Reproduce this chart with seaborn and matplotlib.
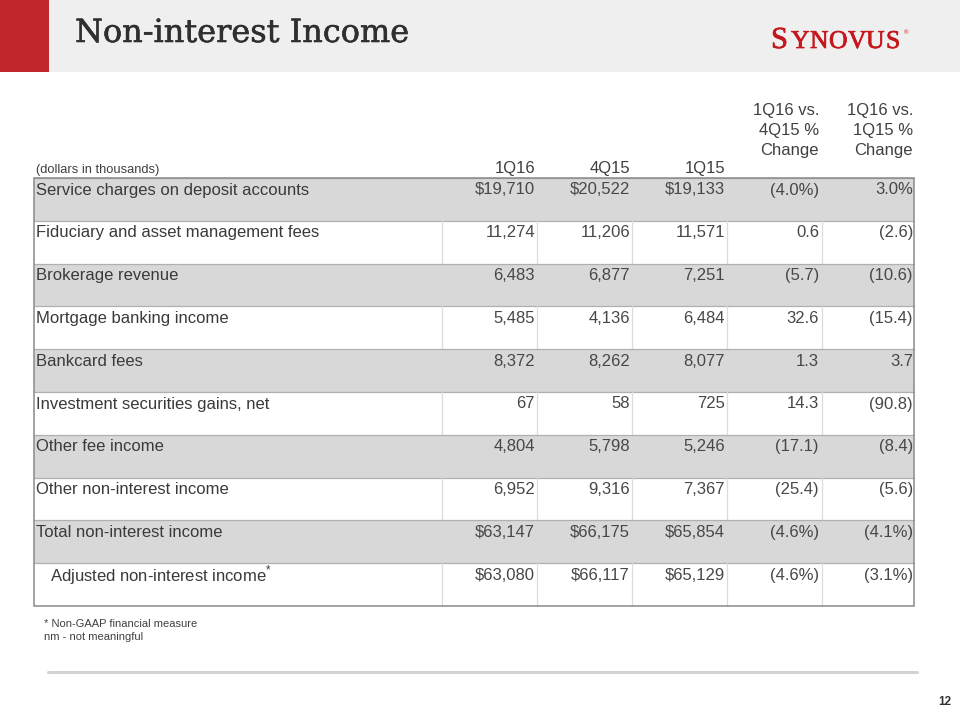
import numpy as np
import pandas as pd
import matplotlib
matplotlib.use("Agg")
import matplotlib.pyplot as plt
import matplotlib.patheffects as pe
import seaborn as sns
from matplotlib.colors import ListedColormap
from matplotlib.patches import Rectangle

sns.set_theme(style="white")
plt.rcParams["font.family"] = ["Liberation Sans", "DejaVu Sans"]
plt.rcParams["mathtext.fontset"] = "custom"
plt.rcParams["mathtext.rm"] = "Liberation Sans"

# table content
row_labels = [
    "Service charges on deposit accounts",
    "Fiduciary and asset management fees",
    "Brokerage revenue",
    "Mortgage banking income",
    "Bankcard fees",
    "Investment securities gains, net",
    "Other fee income",
    "Other non-interest income",
    "Total non-interest income",
    "Adjusted non-interest income$^{*}$",
]
col_headers = ["1Q16", "4Q15", "1Q15", "1Q16 vs.\n4Q15 %\nChange", "1Q16 vs.\n1Q15 %\nChange"]
q1_16 = ["$19,710", "11,274", "6,483", "5,485", "8,372", "67", "4,804", "6,952", "$63,147", "$63,080"]
q4_15 = ["$20,522", "11,206", "6,877", "4,136", "8,262", "58", "5,798", "9,316", "$66,175", "$66,117"]
q1_15 = ["$19,133", "11,571", "7,251", "6,484", "8,077", "725", "5,246", "7,367", "$65,854", "$65,129"]
chg_4q15 = ["(4.0%)", "0.6", "(5.7)", "32.6", "1.3", "14.3", "(17.1)", "(25.4)", "(4.6%)", "(4.6%)"]
chg_1q15 = ["3.0%", "(2.6)", "(10.6)", "(15.4)", "3.7", "(90.8)", "(8.4)", "(5.6)", "(4.1%)", "(3.1%)"]
shaded = [1, 0, 1, 0, 1, 0, 1, 0, 1, 0]
indented = [0, 0, 0, 0, 0, 0, 0, 0, 0, 1]

W, H = 960, 720
fig = plt.figure(figsize=(9.6, 7.2), dpi=100)
fig.patch.set_facecolor("white")

# table geometry (pixels)
t_left, t_right, t_top, t_bot = 34, 914, 178, 606
n = len(row_labels)
row_h = (t_bot - t_top) / n
seps = [442, 537, 632, 727, 822]
col_right = [535, 630, 725, 819, 913]

# row shading via heatmap
ax_tab = fig.add_axes([t_left / W, 1 - t_bot / H, (t_right - t_left) / W, (t_bot - t_top) / H])
shade_df = pd.DataFrame({"shade": shaded}, index=row_labels)
sns.heatmap(shade_df, ax=ax_tab, cmap=ListedColormap(["#ffffff", "#d8d8d8"]),
            vmin=0, vmax=1, cbar=False, xticklabels=False, yticklabels=False)
ax_tab.set_axis_off()

# overlay in pixel coordinates
ax = fig.add_axes([0, 0, 1, 1], zorder=3)
ax.set_xlim(0, W)
ax.set_ylim(H, 0)
ax.set_axis_off()
ax.patch.set_alpha(0)

# header band
ax.add_patch(Rectangle((0, 0), W, 72, color="#efefef", lw=0, zorder=0))
ax.add_patch(Rectangle((0, 0), 49, 72, color="#c1272d", lw=0, zorder=1))
ax.text(75, 42, "Non-interest Income", family="DejaVu Serif", fontsize=23,
        color="#2f2f2f", va="baseline", ha="left",
        path_effects=[pe.withStroke(linewidth=0.4, foreground="#2f2f2f")])

# logo
logo_red = "#c4161c"
thick = [pe.withStroke(linewidth=0.5, foreground=logo_red)]
ax.text(771, 48, "S", family="Liberation Serif", fontsize=22, color=logo_red,
        va="baseline", ha="left", path_effects=thick)
for ch, lx in zip("YNOVUS", [791, 810, 829, 848, 866, 886]):
    ax.text(lx, 48, ch, family="Liberation Serif", fontsize=18.5, color=logo_red,
            va="baseline", ha="left", path_effects=thick)
ax.text(904, 34, "®", fontsize=4.5, color=logo_red, va="baseline", ha="left")

# column headers
ax.text(36, 170, "(dollars in thousands)", fontsize=9.3, color="#404040", va="center", ha="left")
for j, hdr in enumerate(col_headers):
    lines = hdr.split("\n")
    for k, line in enumerate(reversed(lines)):
        y = 169 if len(lines) == 1 else 151 - k * 20.5
        ax.text(col_right[j], y, line, fontsize=12, color="#404040", va="center", ha="right")

# grid lines
for i in range(n):
    top = t_top + i * row_h
    if not shaded[i]:
        for sx in seps:
            ax.plot([sx, sx], [top, top + row_h], color="#dcdcdc", lw=0.9, zorder=2)
    else:
        ax.plot([t_left, t_right], [top, top], color="#b0b0b0", lw=0.9, zorder=2)
        ax.plot([t_left, t_right], [top + row_h, top + row_h], color="#b0b0b0", lw=0.9, zorder=2)
ax.add_patch(Rectangle((t_left, t_top), t_right - t_left, t_bot - t_top,
                       fill=False, ec="#8a8a8a", lw=1.1, zorder=4))

# cell text
cols = [q1_16, q4_15, q1_15, chg_4q15, chg_1q15]
for i in range(n):
    yc = t_top + i * row_h + 12
    ax.text(36 + 14 * indented[i], yc, row_labels[i], fontsize=12, color="#3a3a3a",
            va="center", ha="left", zorder=5)
    for j, col in enumerate(cols):
        ax.text(col_right[j], yc, col[i], fontsize=12, color="#474747",
                va="center", ha="right", zorder=5)

# footnotes
ax.text(44, 624, "* Non-GAAP financial measure", fontsize=8, color="#404040", va="center", ha="left")
ax.text(44, 637, "nm - not meaningful", fontsize=8, color="#404040", va="center", ha="left")
ax.plot([48, 917], [672, 672], color="#d3d3d3", lw=2.2)
ax.text(945, 702, "12", fontsize=8.5, fontweight="bold", color="#333333", va="center", ha="center")

fig.savefig("out.png", dpi=100, facecolor="white")
